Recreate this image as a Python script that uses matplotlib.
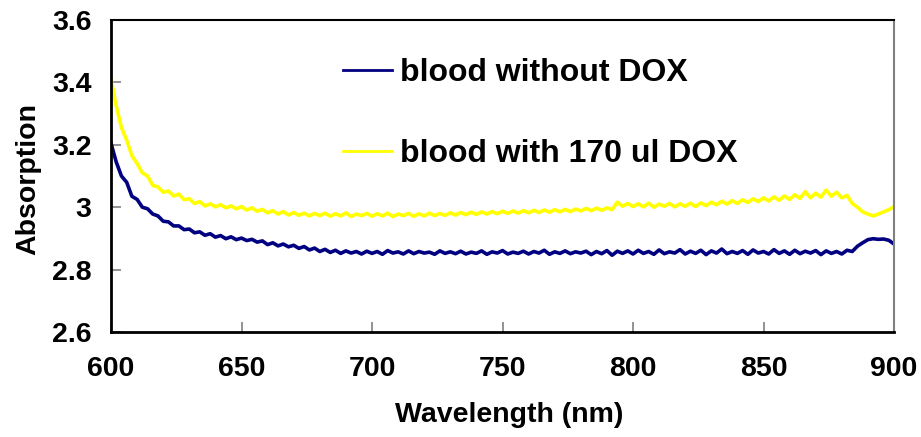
import numpy as np
import matplotlib
matplotlib.use("Agg")
import matplotlib.pyplot as plt

wavelength = np.arange(600, 901, 2)

blood_without_dox = [
    3.205, 3.145, 3.100, 3.080, 3.035, 3.025, 3.000, 2.995, 2.978, 2.972,
    2.955, 2.953, 2.940, 2.940, 2.928, 2.930, 2.918, 2.921, 2.910, 2.915,
    2.904, 2.909, 2.899, 2.905, 2.896, 2.901, 2.893, 2.897, 2.888, 2.892,
    2.880, 2.886, 2.876, 2.882, 2.873, 2.878, 2.868, 2.874, 2.863, 2.869,
    2.858, 2.865, 2.855, 2.862, 2.852, 2.860, 2.853, 2.858, 2.850, 2.859,
    2.852, 2.858, 2.849, 2.861, 2.853, 2.857, 2.850, 2.860, 2.851, 2.858,
    2.853, 2.856, 2.849, 2.860, 2.852, 2.857, 2.851, 2.859, 2.850, 2.856,
    2.852, 2.860, 2.849, 2.857, 2.853, 2.861, 2.850, 2.856, 2.852, 2.859,
    2.850, 2.858, 2.853, 2.862, 2.849, 2.857, 2.852, 2.860, 2.851, 2.857,
    2.853, 2.859, 2.848, 2.858, 2.851, 2.861, 2.846, 2.859, 2.852, 2.860,
    2.850, 2.862, 2.852, 2.858, 2.849, 2.863, 2.851, 2.857, 2.853, 2.864,
    2.850, 2.859, 2.852, 2.862, 2.848, 2.860, 2.853, 2.866, 2.851, 2.858,
    2.852, 2.861, 2.849, 2.863, 2.853, 2.858, 2.850, 2.864, 2.852, 2.860,
    2.849, 2.862, 2.851, 2.859, 2.853, 2.861, 2.848, 2.860, 2.852, 2.858,
    2.850, 2.862, 2.858, 2.875, 2.886, 2.896, 2.899, 2.897, 2.898, 2.894,
    2.882,
]

blood_with_dox = [
    3.410, 3.325, 3.255, 3.215, 3.165, 3.140, 3.110, 3.100, 3.070, 3.065,
    3.048, 3.052, 3.036, 3.042, 3.024, 3.027, 3.012, 3.018, 3.004, 3.011,
    3.001, 3.008, 2.998, 3.004, 2.995, 3.002, 2.991, 2.998, 2.987, 2.993,
    2.982, 2.989, 2.978, 2.986, 2.975, 2.983, 2.974, 2.981, 2.972, 2.980,
    2.973, 2.981, 2.971, 2.979, 2.972, 2.982, 2.970, 2.978, 2.973, 2.980,
    2.971, 2.979, 2.972, 2.981, 2.970, 2.978, 2.973, 2.980, 2.971, 2.979,
    2.972, 2.981, 2.973, 2.980, 2.974, 2.982, 2.975, 2.983, 2.976, 2.984,
    2.977, 2.985, 2.978, 2.986, 2.979, 2.987, 2.980, 2.988, 2.981, 2.989,
    2.982, 2.990, 2.983, 2.991, 2.984, 2.992, 2.985, 2.993, 2.986, 2.994,
    2.988, 2.996, 2.989, 2.997, 2.990, 2.998, 2.992, 3.016, 3.003, 3.012,
    3.002, 3.011, 3.001, 3.013, 3.000, 3.010, 3.003, 3.012, 3.001, 3.011,
    3.003, 3.013, 3.002, 3.014, 3.005, 3.016, 3.008, 3.019, 3.010, 3.021,
    3.012, 3.024, 3.015, 3.027, 3.018, 3.030, 3.020, 3.033, 3.022, 3.036,
    3.025, 3.040, 3.028, 3.050, 3.030, 3.045, 3.032, 3.055, 3.035, 3.048,
    3.030, 3.038, 3.012, 3.000, 2.985, 2.978, 2.972, 2.978, 2.985, 2.992,
    3.002,
]

series_labels = ["blood without DOX", "blood with 170 ul DOX"]
x_ticks = [600, 650, 700, 750, 800, 850, 900]
y_ticks = [2.6, 2.8, 3.0, 3.2, 3.4, 3.6]
y_tick_labels = ["2.6", "2.8", "3", "3.2", "3.4", "3.6"]

plt.rcParams['font.family'] = ['Liberation Sans', 'DejaVu Sans']
plt.rcParams['font.weight'] = 'bold'

fig = plt.figure(figsize=(9.21, 4.37), dpi=100)
ax = fig.add_axes([111/921, 1-332/437, (894-111)/921, (332-20)/437])

ax.plot(wavelength, blood_without_dox, color='#000080', lw=2.6, label=series_labels[0])
ax.plot(wavelength, blood_with_dox, color='#FFFF00', lw=2.6, label=series_labels[1])

ax.set_xlim(600, 900)
ax.set_ylim(2.6, 3.6)
ax.set_xticks(x_ticks)
ax.set_yticks(y_ticks)
ax.set_yticklabels(y_tick_labels)

ax.tick_params(axis='both', direction='in', labelsize=20.5, color='#808080', width=1.2)
ax.tick_params(axis='y', length=7, pad=14)
ax.tick_params(axis='x', length=7, pad=17)
for lab in ax.get_xticklabels() + ax.get_yticklabels():
    lab.set_fontweight('bold')

for s in ['left', 'bottom']:
    ax.spines[s].set_linewidth(2.0)
    ax.spines[s].set_color('black')
ax.spines['top'].set_linewidth(1.5)
ax.spines['top'].set_color('black')
ax.spines['right'].set_linewidth(1.5)
ax.spines['right'].set_color('#808080')

ax.set_xlabel("Wavelength (nm)", fontsize=20.5, fontweight='bold', labelpad=15)
ax.xaxis.label.set_x(0.508)
ax.set_ylabel("Absorption", fontsize=20.5, fontweight='bold', labelpad=8)
ax.yaxis.label.set_y(0.49)

leg = ax.legend(loc='upper left', bbox_to_anchor=(343/921, 1-58/437),
                bbox_transform=fig.transFigure, frameon=False,
                prop={'size': 23, 'weight': 'bold'}, handlelength=1.54,
                handletextpad=0.25, labelspacing=1.59, borderpad=0, borderaxespad=0)
for h in leg.get_lines():
    h.set_linewidth(2.0)

fig.savefig("out.png", dpi=100)
